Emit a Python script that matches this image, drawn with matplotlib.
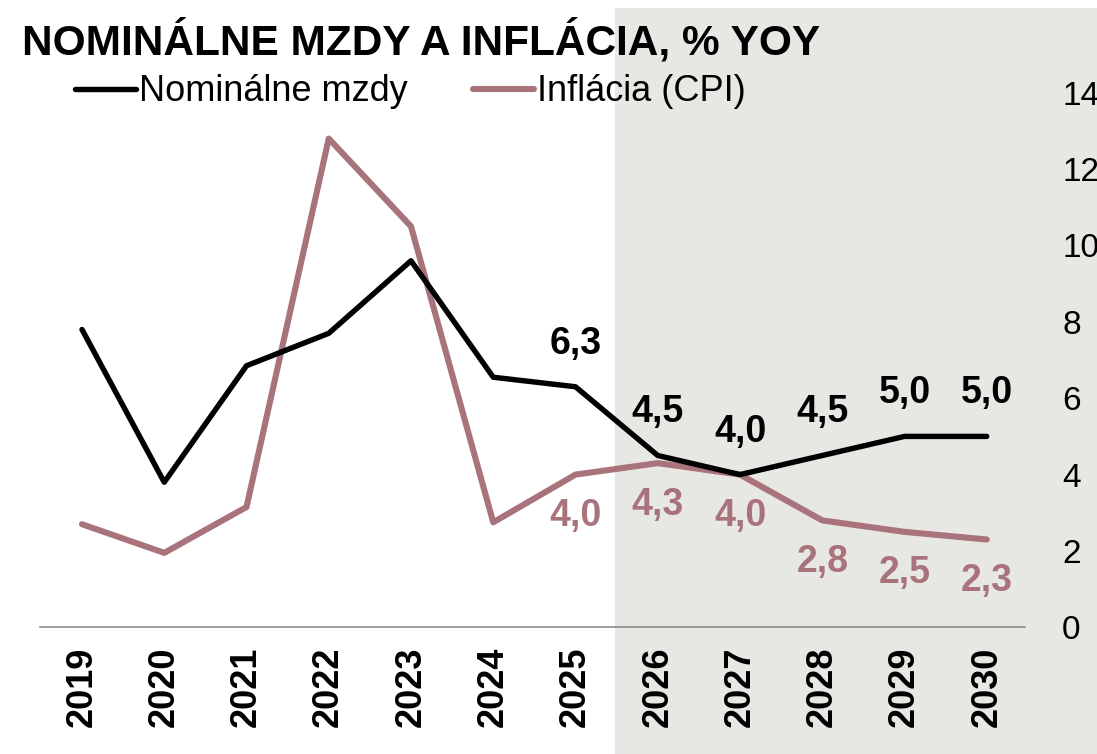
import matplotlib

matplotlib.use("Agg")

import matplotlib.pyplot as plt
from matplotlib.font_manager import fontManager
from matplotlib.patches import Rectangle

years = [2019, 2020, 2021, 2022, 2023, 2024, 2025, 2026, 2027, 2028, 2029, 2030]
wages = [7.8, 3.8, 6.85, 7.7, 9.6, 6.55, 6.3, 4.5, 4.0, 4.5, 5.0, 5.0]
cpi = [2.7, 1.95, 3.15, 12.8, 10.5, 2.75, 4.0, 4.3, 4.0, 2.8, 2.5, 2.3]
label_years = [2025, 2026, 2027, 2028, 2029, 2030]
y_ticks = [0, 2, 4, 6, 8, 10, 12, 14]

BLACK = "#000000"
PINK = "#A9737B"
SHADE = "#E7E7E3"

names = {f.name for f in fontManager.ttflist}
narrow = "Liberation Sans Narrow" if "Liberation Sans Narrow" in names else "Liberation Sans"
plt.rcParams["font.family"] = ["Liberation Sans", "DejaVu Sans"]

fig = plt.figure(figsize=(10.97, 7.54), dpi=100)
fig.patch.set_facecolor("white")

# forecast shading, runs past the axis to the figure edge
x0 = 0.5606
fig.patches.append(Rectangle((x0, 0), 1 - x0, 0.989, transform=fig.transFigure,
                             facecolor=SHADE, edgecolor="none", zorder=-10))

ax = fig.add_axes([0.0365, 0.168, 0.8975, 0.709])
ax.patch.set_alpha(0)
ax.plot(years, wages, color=BLACK, lw=3.9, solid_capstyle="round", solid_joinstyle="round",
        label="Nominálne mzdy", zorder=3)
ax.plot(years, cpi, color=PINK, lw=4.4, solid_capstyle="round", solid_joinstyle="round",
        label="Inflácia (CPI)", zorder=2)

for yr, w, c in zip(years, wages, cpi):
    if yr not in label_years:
        continue
    ax.annotate(f"{w:.1f}".replace(".", ","), (yr, w), xytext=(0, 18), textcoords="offset points",
                ha="center", va="bottom", fontsize=27, fontweight="bold", color=BLACK)
    ax.annotate(f"{c:.1f}".replace(".", ","), (yr, c), xytext=(0, -17), textcoords="offset points",
                ha="center", va="top", fontsize=27, fontweight="bold", color=PINK)

ax.set_xlim(2018.49, 2030.46)
ax.set_ylim(0, 14)
ax.set_xticks(years)
ax.set_xticklabels([str(y) for y in years], rotation=90, fontsize=26, fontweight="bold", va="top")
ax.set_yticks(y_ticks)
ax.tick_params(axis="x", length=0, pad=14)
ax.tick_params(axis="y", left=False, labelleft=False, right=True, labelright=True,
               length=0, pad=27, labelsize=24)
for side in ("top", "left", "right"):
    ax.spines[side].set_visible(False)
ax.spines["bottom"].set_color("#8C8C8C")
ax.spines["bottom"].set_linewidth(1.2)

fig.text(0.02, 0.945, "NOMINÁLNE MZDY A INFLÁCIA, % YOY", fontsize=30.5, fontweight="bold",
         family=[narrow, "DejaVu Sans"], va="center", ha="left")

fig.legend(loc="center left", bbox_to_anchor=(0.068, 0.878), ncol=2, frameon=False,
           fontsize=26, handlelength=1.7, handletextpad=0.08, columnspacing=1.8,
           borderaxespad=0, borderpad=0)

fig.savefig("out.png", dpi=100)
